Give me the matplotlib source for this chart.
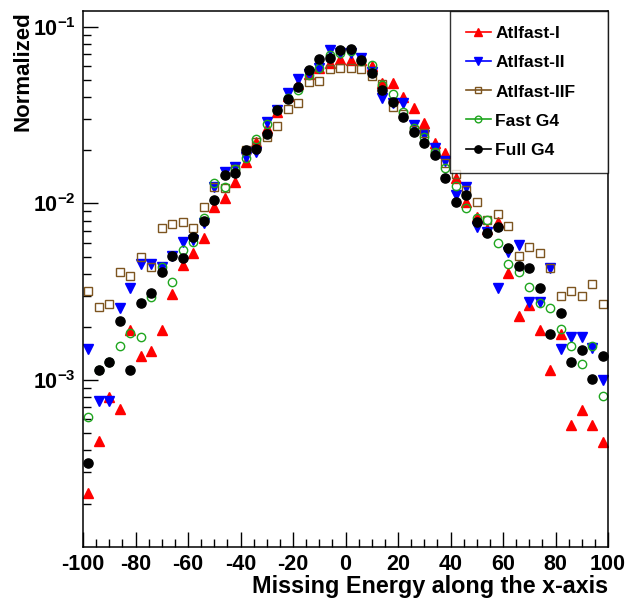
import numpy as np
import matplotlib
matplotlib.use("Agg")
import matplotlib.pyplot as plt
from matplotlib.lines import Line2D
from matplotlib.ticker import MultipleLocator, LogLocator, FuncFormatter, NullFormatter

plt.rcParams["font.family"] = ["Liberation Sans", "DejaVu Sans"]
plt.rcParams["font.weight"] = "bold"
plt.rcParams["axes.unicode_minus"] = False
plt.rcParams["mathtext.fontset"] = "custom"
plt.rcParams["mathtext.rm"] = "Liberation Sans:bold"
plt.rcParams["mathtext.bf"] = "Liberation Sans:bold"
plt.rcParams["mathtext.it"] = "Liberation Sans:bold"

# bin centres of the missing energy histogram
x_bins = np.arange(-98, 100, 4)

atlfast_1 = [2.29e-4, 4.52e-4, 8.06e-4, 6.84e-4, 1.92e-3, 1.36e-3, 1.47e-3, 1.92e-3, 3.06e-3, 4.48e-3,
             5.22e-3, 6.35e-3, 9.50e-3, 1.07e-2, 1.33e-2, 1.72e-2, 2.23e-2, 2.66e-2, 3.30e-2, 4.05e-2,
             4.74e-2, 5.38e-2, 5.82e-2, 6.21e-2, 6.57e-2, 6.48e-2, 6.48e-2, 6.01e-2, 4.78e-2, 4.78e-2,
             4.01e-2, 3.45e-2, 2.84e-2, 2.19e-2, 1.94e-2, 1.39e-2, 1.02e-2, 8.41e-3, 7.16e-3, 7.88e-3,
             4.06e-3, 2.29e-3, 2.66e-3, 1.92e-3, 1.14e-3, 1.82e-3, 5.57e-4, 6.77e-4, 5.57e-4, 4.48e-4]

atlfast_2 = [1.50e-3, 7.65e-4, 7.65e-4, 2.55e-3, 3.31e-3, 4.52e-3, 4.52e-3, 4.35e-3, 5.04e-3, 6.07e-3,
             6.21e-3, 7.72e-3, 1.24e-2, 1.51e-2, 1.61e-2, 1.84e-2, 1.96e-2, 2.90e-2, 3.38e-2, 4.23e-2,
             5.04e-2, 5.38e-2, 5.82e-2, 7.38e-2, 7.07e-2, 7.07e-2, 6.68e-2, 5.54e-2, 3.93e-2, 3.68e-2,
             3.68e-2, 2.78e-2, 2.44e-2, 2.05e-2, 1.74e-2, 1.12e-2, 1.24e-2, 7.38e-3, 6.92e-3, 3.31e-3,
             5.33e-3, 5.82e-3, 2.78e-3, 2.78e-3, 4.29e-3, 1.49e-3, 1.76e-3, 1.76e-3, 1.51e-3, 1.00e-3]

atlfast_2f = [3.19e-3, 2.60e-3, 2.70e-3, 4.11e-3, 3.88e-3, 4.99e-3, 4.38e-3, 7.23e-3, 7.62e-3, 7.88e-3,
              7.29e-3, 9.58e-3, 1.24e-2, 1.22e-2, 1.56e-2, 2.00e-2, 2.23e-2, 2.38e-2, 2.74e-2, 3.41e-2,
              3.68e-2, 4.88e-2, 4.95e-2, 5.74e-2, 5.82e-2, 5.82e-2, 5.74e-2, 5.28e-2, 4.72e-2, 3.53e-2,
              3.21e-2, 2.60e-2, 2.49e-2, 1.92e-2, 1.69e-2, 1.47e-2, 1.19e-2, 1.02e-2, 8.05e-3, 8.71e-3,
              7.48e-3, 5.06e-3, 5.69e-3, 5.22e-3, 4.29e-3, 2.99e-3, 3.19e-3, 2.99e-3, 3.50e-3, 2.70e-3]

fast_g4 = [6.16e-4, 1.14e-3, 1.26e-3, 1.55e-3, 1.84e-3, 1.75e-3, 2.97e-3, 4.35e-3, 3.61e-3, 5.45e-3,
           6.07e-3, 8.24e-3, 1.30e-2, 1.24e-2, 1.56e-2, 1.80e-2, 2.30e-2, 2.81e-2, 3.36e-2, 3.95e-2,
           4.38e-2, 5.33e-2, 5.82e-2, 6.91e-2, 7.07e-2, 7.29e-2, 6.39e-2, 6.07e-2, 4.68e-2, 4.14e-2,
           3.30e-2, 2.66e-2, 2.38e-2, 1.96e-2, 1.58e-2, 1.26e-2, 9.46e-3, 8.27e-3, 8.05e-3, 5.94e-3,
           4.54e-3, 4.11e-3, 3.38e-3, 2.74e-3, 2.57e-3, 1.95e-3, 1.55e-3, 1.23e-3, 1.55e-3, 8.16e-4]

full_g4 = [3.41e-4, 1.14e-3, 1.26e-3, 2.17e-3, 1.14e-3, 2.74e-3, 3.10e-3, 4.11e-3, 5.04e-3, 4.93e-3,
           6.48e-3, 7.98e-3, 1.04e-2, 1.45e-2, 1.48e-2, 2.00e-2, 2.02e-2, 2.47e-2, 3.38e-2, 3.88e-2,
           4.58e-2, 5.69e-2, 6.57e-2, 6.68e-2, 7.38e-2, 7.48e-2, 6.48e-2, 5.45e-2, 4.38e-2, 3.76e-2,
           3.10e-2, 2.55e-2, 2.19e-2, 1.88e-2, 1.40e-2, 1.02e-2, 1.12e-2, 7.88e-3, 6.83e-3, 7.32e-3,
           5.57e-3, 4.44e-3, 4.33e-3, 3.31e-3, 1.82e-3, 2.39e-3, 1.26e-3, 1.48e-3, 1.02e-3, 1.37e-3]

labels = ["Atlfast-I", "Atlfast-II", "Atlfast-IIF", "Fast G4", "Full G4"]
series = [atlfast_1, atlfast_2, atlfast_2f, fast_g4, full_g4]
colors = ["#ff0000", "#0000ff", "#7d5520", "#1fa61f", "#000000"]
markers = ["^", "v", "s", "o", "o"]
sizes = [7.2, 7.2, 6.2, 6.0, 6.6]
filled = [True, True, False, False, True]

fig = plt.figure(figsize=(6.29, 6.05), dpi=100)
ax = fig.add_axes([0.132, 0.0964, 0.8347, 0.886])

handles = []
for y, lab, c, m, s, f in zip(series, labels, colors, markers, sizes, filled):
    fc = c if f else "none"
    ax.plot(x_bins, y, linestyle="none", marker=m, markersize=s,
            markerfacecolor=fc, markeredgecolor=c, markeredgewidth=1.0)
    handles.append(Line2D([], [], color=c, linewidth=1.2, marker=m, markersize=s * 0.8,
                          markerfacecolor=fc, markeredgecolor=c, markeredgewidth=1.0, label=lab))

ax.set_yscale("log")
ax.set_xlim(-100, 100)
ax.set_ylim(1.14e-4, 0.1233)

ax.xaxis.set_major_locator(MultipleLocator(20))
ax.xaxis.set_minor_locator(MultipleLocator(5))
ax.yaxis.set_major_locator(LogLocator(base=10))
ax.yaxis.set_minor_locator(LogLocator(base=10, subs=np.arange(2, 10)))
ax.yaxis.set_minor_formatter(NullFormatter())
ax.yaxis.set_major_formatter(FuncFormatter(lambda v, p: r"$\mathrm{10^{%d}}$" % int(round(np.log10(v)))))

ax.tick_params(which="both", direction="in", top=False, right=False, width=1.0)
ax.tick_params(which="major", length=11)
ax.tick_params(which="minor", length=5.5)
ax.tick_params(axis="x", labelsize=15.5, pad=5)
ax.tick_params(axis="y", labelsize=15.5, pad=5)
for lab in ax.get_xticklabels() + ax.get_yticklabels():
    lab.set_fontweight("bold")
for sp in ax.spines.values():
    sp.set_linewidth(1.1)

fig.text(608 / 629, 12 / 605, "Missing Energy along the x-axis", ha="right", va="baseline",
         fontsize=16.8, fontweight="bold")
fig.text(23 / 629, 1 - 11 / 605, "Normalized", ha="center", va="top", rotation=90,
         fontsize=16, fontweight="bold")

leg = ax.legend(handles=handles, loc="upper left", bbox_to_anchor=(0.699, 0.0, 0.301, 1.0),
                mode="expand", borderaxespad=0, fancybox=False, frameon=True,
                prop={"size": 12.5, "weight": "bold"}, handlelength=1.45, handletextpad=0.25,
                labelspacing=0.8, borderpad=0.9)
leg.get_frame().set_edgecolor("black")
leg.get_frame().set_linewidth(1.0)

fig.savefig("out.png", dpi=100)
